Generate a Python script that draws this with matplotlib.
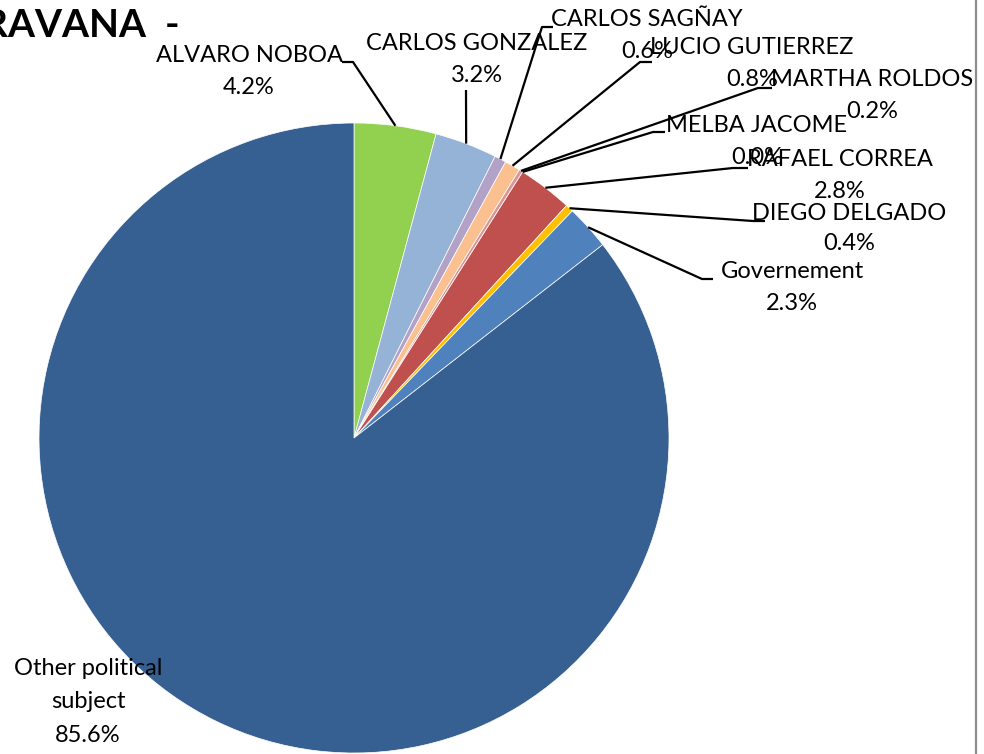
import numpy as np
import matplotlib
matplotlib.use("Agg")
import matplotlib.pyplot as plt

# données du graphique
names = ["ALVARO NOBOA", "CARLOS GONZALEZ", "CARLOS SAGÑAY", "LUCIO GUTIERREZ",
         "MARTHA ROLDOS", "MELBA JACOME", "RAFAEL CORREA", "DIEGO DELGADO",
         "Governement", "Other political\nsubject"]
values = [4.2, 3.2, 0.6, 0.8, 0.2, 0.0, 2.8, 0.4, 2.3, 85.6]
title_text = "RAVANA  -"

# couleurs et mise en page (pixels)
colors = ["#92D050", "#95B3D7", "#B3A2C7", "#FAC090", "#D99694", "#A5A5A5",
          "#C0504D", "#FFC000", "#4F81BD", "#376092"]
W, H = 984, 754
cx, cy, rad = 354, 438, 315
label_pos = [(249, 55), (477, 44), (647, 20), (752, 47), (872, 79),
             (757, 126), (840, 159), (849, 213), (792, 271), (88, 685)]
pct_y = [87, 75, 52, 79, 112, 157, 191, 244, 303, 736]
leaders = [[(353, 62), (342, 62)], [(466, 90)], [(542, 27), (553, 27)],
           [(640, 62), (652, 62)], [(758, 88), (772, 88)], [(653, 132), (665, 132)],
           [(733, 168), (748, 168)], [(753, 221), (765, 221)], [(702, 279), (713, 279)],
           None]

plt.rcParams['font.family'] = ['Lato', 'DejaVu Sans']

fig = plt.figure(figsize=(W / 100, H / 100), dpi=100)
ax = fig.add_axes([0, 0, 1, 1])

def Y(py):
    return H - py

wedges, _ = ax.pie(values, colors=colors, startangle=90, counterclock=False,
                   center=(cx, Y(cy)), radius=rad,
                   wedgeprops=dict(edgecolor='white', linewidth=0.5))
ax.set_xlim(0, W)
ax.set_ylim(0, H)
ax.axis('off')

# lignes de rappel
for w, path in zip(wedges, leaders):
    if path is None:
        continue
    mid = np.deg2rad((w.theta1 + w.theta2) / 2)
    xs = [cx + rad * np.cos(mid)] + [p[0] for p in path]
    ys = [Y(cy) + rad * np.sin(mid)] + [Y(p[1]) for p in path]
    ax.plot(xs, ys, color='black', linewidth=1.6, solid_capstyle='butt', zorder=3)

# étiquettes
fs = 17
for name, v, (lx, ly), py in zip(names, values, label_pos, pct_y):
    ax.text(lx, Y(ly), name, ha='center', va='center', fontsize=fs,
            linespacing=1.75, zorder=4)
    ax.text(lx, Y(py), f"{v:.1f}%", ha='center', va='center', fontsize=fs, zorder=4)

ax.text(180, Y(37), title_text, ha='right', va='baseline', fontsize=28,
        fontweight='bold', zorder=4)

# bordure droite
ax.plot([976, 976], [0, H], color='#8C8C8C', linewidth=1.6, zorder=5)

fig.savefig("out.png", dpi=100)
